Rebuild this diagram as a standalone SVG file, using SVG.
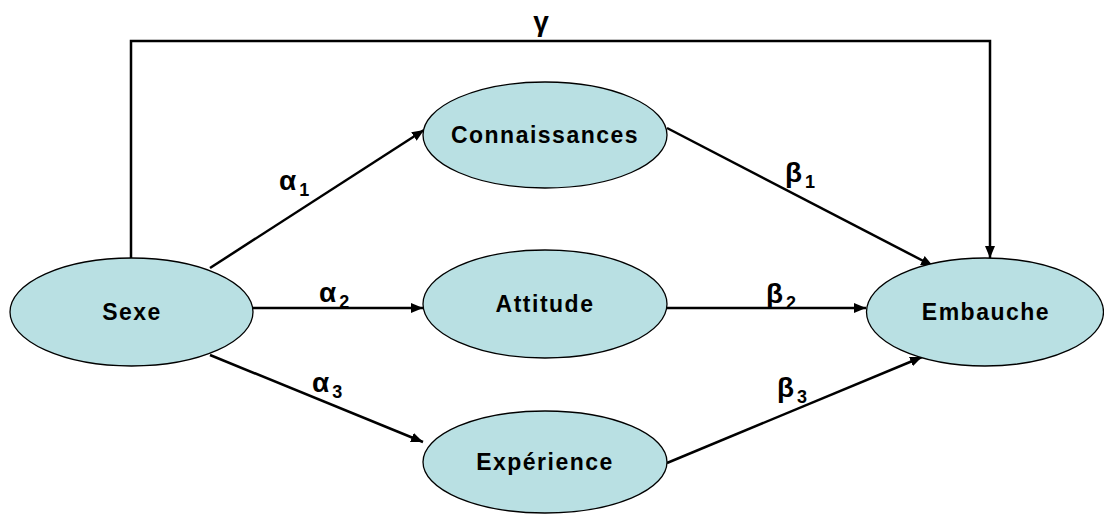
<svg xmlns="http://www.w3.org/2000/svg" width="1104" height="514" viewBox="0 0 1104 514">
<style>
.node{fill:#b9e0e3;stroke:#000;stroke-width:1.3}
.lbl{font-family:"Liberation Sans",Arial,sans-serif;font-weight:bold;font-size:23px;text-anchor:middle;letter-spacing:1.5px;fill:#000}
.gr{font-family:"Liberation Sans",Arial,sans-serif;font-weight:bold;font-size:28px;fill:#000}
.sub{font-size:18px}
.edge{fill:none;stroke:#000;stroke-width:2.5}
</style>
<defs>
<marker id="ah" viewBox="0 0 12 10" refX="12" refY="5" markerWidth="12" markerHeight="10" markerUnits="userSpaceOnUse" orient="auto">
<path d="M0,0 L12,5 L0,10 Z" fill="#000"/>
</marker>
</defs>
<rect width="1104" height="514" fill="#fff"/>
<g id="connectors">
<polyline class="edge" points="131,258 131,41 990,41 990,258" marker-end="url(#ah)"/>
<line class="edge" x1="210" y1="268" x2="424" y2="130" marker-end="url(#ah)"/>
<line class="edge" x1="253" y1="308" x2="423" y2="308" marker-end="url(#ah)"/>
<line class="edge" x1="210" y1="355" x2="423" y2="442" marker-end="url(#ah)"/>
<line class="edge" x1="667" y1="128" x2="933" y2="266" marker-end="url(#ah)"/>
<line class="edge" x1="667" y1="308" x2="866" y2="308" marker-end="url(#ah)"/>
<line class="edge" x1="667" y1="463" x2="922" y2="357" marker-end="url(#ah)"/>
<text class="gr" x="541" y="31" text-anchor="middle">γ</text>
<text class="gr" x="279" y="190">α<tspan class="sub" dx="3" dy="6">1</tspan></text>
<text class="gr" x="319" y="302">α<tspan class="sub" dx="3" dy="6">2</tspan></text>
<text class="gr" x="312" y="392">α<tspan class="sub" dx="3" dy="6">3</tspan></text>
<text class="gr" x="785" y="182">β<tspan class="sub" dx="3" dy="6">1</tspan></text>
<text class="gr" x="766" y="303">β<tspan class="sub" dx="3" dy="6">2</tspan></text>
<text class="gr" x="777" y="397">β<tspan class="sub" dx="3" dy="6">3</tspan></text>
</g>
<g id="sexe"><ellipse class="node" cx="131.5" cy="312" rx="121.5" ry="54"/><text class="lbl" x="132" y="320">Sexe</text></g>
<g id="connaissances"><ellipse class="node" cx="545" cy="135" rx="122" ry="53"/><text class="lbl" x="545" y="143">Connaissances</text></g>
<g id="attitude"><ellipse class="node" cx="545" cy="304" rx="122" ry="54"/><text class="lbl" x="545" y="312">Attitude</text></g>
<g id="experience"><ellipse class="node" cx="545" cy="462" rx="122" ry="51"/><text class="lbl" x="545" y="470">Expérience</text></g>
<g id="embauche"><ellipse class="node" cx="985" cy="312" rx="118.5" ry="54"/><text class="lbl" x="986" y="320">Embauche</text></g>
</svg>
